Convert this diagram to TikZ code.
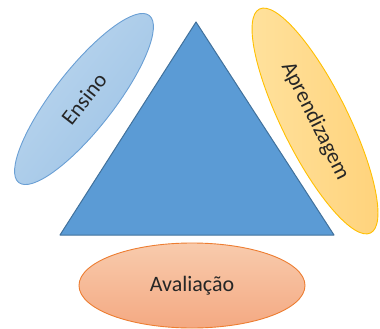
\documentclass[tikz,border=0pt]{standalone}
\usepackage{fontspec}
\setmainfont{Carlito}
\usetikzlibrary{shapes.geometric}
\definecolor{triFill}{HTML}{5B9BD5}
\definecolor{triLine}{HTML}{41719C}
\definecolor{ensA}{HTML}{BDD7EE}
\definecolor{ensB}{HTML}{9DC3E6}
\definecolor{ensLine}{HTML}{6A9FD4}
\definecolor{aprA}{HTML}{FFE29E}
\definecolor{aprB}{HTML}{FFD27A}
\definecolor{aprLine}{HTML}{FFC000}
\definecolor{avaA}{HTML}{F8CBAD}
\definecolor{avaB}{HTML}{F4A982}
\definecolor{avaLine}{HTML}{ED7D31}
\definecolor{txt}{HTML}{262626}
\tikzset{
  bubble/.style={ellipse, inner sep=0pt, line width=0.9pt, text=txt,
    font=\fontsize{22}{25}\selectfont}
}
\begin{document}
\begin{tikzpicture}[x=1pt,y=-1pt]
\useasboundingbox (0,0) rectangle (380,329);
% triangle
\coordinate (apex) at (196,22);
\coordinate (bl) at (60,235);
\coordinate (br) at (334,235);
\draw[fill=triFill, draw=triLine, line width=1pt, line join=round] (apex) -- (br) -- (bl) -- cycle;
% Ensino
\node[bubble, draw=ensLine, minimum width=212pt, minimum height=60pt, rotate=52,
  top color=ensA, bottom color=ensB, shading angle=52] (ens) at (84,99) {Ensino};
% Aprendizagem
\node[bubble, draw=aprLine, minimum width=250pt, minimum height=66pt, rotate=-63.6,
  left color=aprA, right color=aprB] (apr) at (315,121) {Aprendizagem};
% Avaliacao
\node[bubble, draw=avaLine, minimum width=226pt, minimum height=85pt,
  top color=avaA, bottom color=avaB] (ava) at (192,285.5) {Avaliação};
\end{tikzpicture}
\end{document}
